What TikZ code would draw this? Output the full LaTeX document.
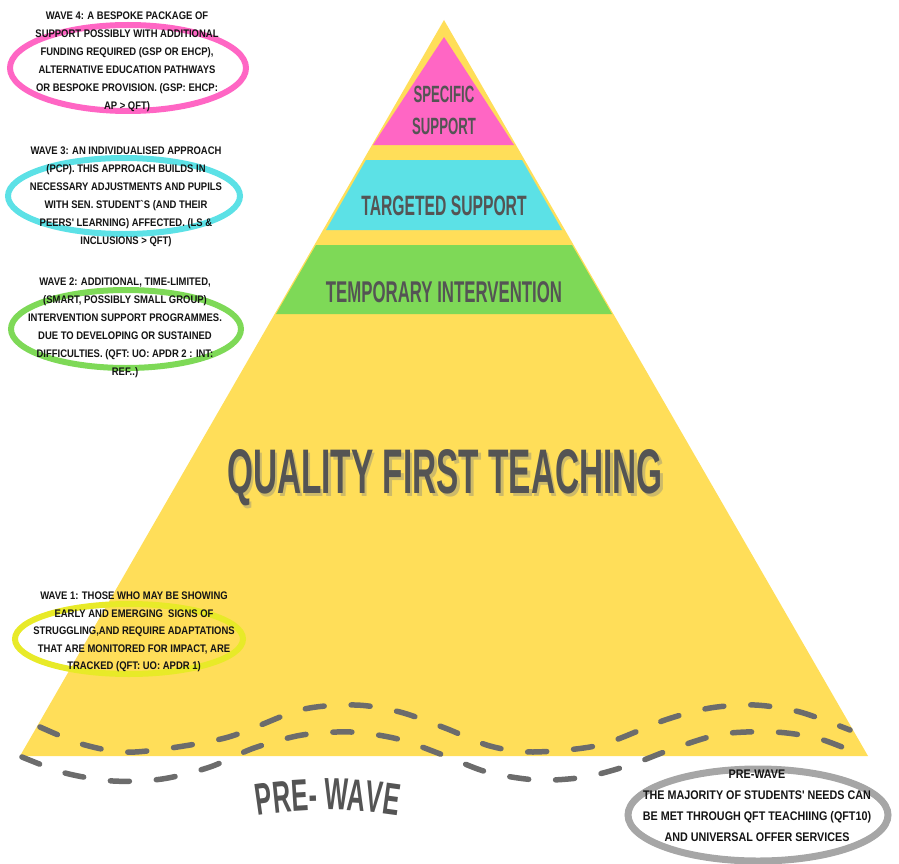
\documentclass[tikz,border=0pt]{standalone}
\usepackage{fontspec}
\usepackage{tikz}
\usetikzlibrary{shapes,positioning}
\newfontfamily\bandfont[FakeStretch=0.56]{Liberation Sans}
\newfontfamily\qftfont[FakeStretch=0.53]{Liberation Sans}
\newfontfamily\notefont[FakeStretch=0.86]{Liberation Sans}
\definecolor{pyryellow}{RGB}{255,222,89}
\definecolor{pyrpink}{RGB}{255,102,196}
\definecolor{pyrcyan}{RGB}{92,225,230}
\definecolor{pyrgreen}{RGB}{126,217,87}
\definecolor{pyrlime}{RGB}{232,234,40}
\definecolor{pyrgrey}{RGB}{166,166,166}
\definecolor{txtgrey}{RGB}{84,84,84}
\definecolor{dashgrey}{RGB}{108,108,108}
\definecolor{shadowtan}{RGB}{205,186,105}
\tikzstyle{band} = [text=txtgrey, inner sep=0pt]
\tikzstyle{note} = [align=center, text=black!92, inner sep=0pt]
\tikzstyle{ring} = [line width=6pt]
\tikzstyle{wavy} = [dashgrey, line width=5.5pt, line cap=round, dash pattern=on 19pt off 27pt]
\newcommand{\wavefont}{\notefont\bfseries\fontsize{11}{18}\selectfont}

\begin{document}
\begin{tikzpicture}[x=1pt,y=-1pt]
\useasboundingbox (0,0) rectangle (899,864);

% Pyramid
\fill[pyryellow] (444,20) -- (868,756) -- (20,756) -- cycle;

% Levels
\fill[pyrpink] (444,37) -- (514,145) -- (373,145) -- cycle;
\fill[pyrcyan] (366,160) -- (522,160) -- (562,230) -- (326,230) -- cycle;
\fill[pyrgreen] (316,245) -- (572,245) -- (612,314) -- (276,314) -- cycle;

% Level labels
\node[band, align=center, font=\bandfont\bfseries\fontsize{23.5}{32}\selectfont] (specific) at (444,110) {SPECIFIC\\SUPPORT};
\node[band, font=\bandfont\bfseries\fontsize{28}{32}\selectfont] (targeted) at (444,206) {TARGETED SUPPORT};
\node[band, font=\bandfont\bfseries\fontsize{30}{32}\selectfont] (temporary) at (444,292) {TEMPORARY INTERVENTION};
\node[band, text=shadowtan, font=\qftfont\bfseries\fontsize{63}{70}\selectfont] (qftshadow) at (447.5,480.5) {QUALITY FIRST TEACHING};
\node[band, font=\qftfont\bfseries\fontsize{63}{70}\selectfont] (qft) at (445,478) {QUALITY FIRST TEACHING};

% Waves at the base
\draw[wavy] plot[smooth] coordinates {(40,727) (85,745) (135,752) (225,738) (300,710) (355,705) (400,712) (445,728) (490,746) (533,752) (600,745) (665,720) (710,708) (755,705) (800,712) (850,730)};
\draw[wavy] plot[smooth] coordinates {(22,757) (65,773) (113,781) (162,779) (210,767) (254,748) (302,735) (351,732) (398,739) (443,755) (487,772) (537,780) (585,777) (630,765) (675,748) (722,734) (775,732) (820,739) (866,757)};

% Curved label
\foreach \ch/\s [count=\i] in {P/-63.0,R/-45.5,E/-28.0,-/-15.4,W/7.7,A/26.8,V/44.3,E/61.1}
  \node[band, anchor=base, rotate={-1*(\s)*0.1282}, font=\bandfont\bfseries\fontsize{45}{50}\selectfont] (pw\i) at ({329+447*sin((\s)*0.1282)},{1257-447*cos((\s)*0.1282)}) {\ch};

% Rings
\draw[ring, pyrpink] (128,68) ellipse [x radius=118, y radius=43];
\draw[ring, pyrcyan] (124,196) ellipse [x radius=116, y radius=38];
\draw[ring, pyrgreen] (126,329) ellipse [x radius=115, y radius=39];
\draw[ring, pyrlime] (129,639) ellipse [x radius=114, y radius=35];
\draw[ring, pyrgrey, line width=7pt] (758,815) ellipse [x radius=130, y radius=46];

% Notes
\node[note, font=\wavefont] (wave4) at (127,62) {WAVE 4: A BESPOKE PACKAGE OF\\SUPPORT POSSIBLY WITH ADDITIONAL\\FUNDING REQUIRED (GSP OR EHCP),\\ALTERNATIVE EDUCATION PATHWAYS\\OR BESPOKE PROVISION. (GSP: EHCP:\\AP > QFT)};
\node[note, font=\wavefont] (wave3) at (126,197) {WAVE 3: AN INDIVIDUALISED APPROACH\\(PCP). THIS APPROACH BUILDS IN\\NECESSARY ADJUSTMENTS AND PUPILS\\WITH SEN. STUDENT`S (AND THEIR\\PEERS' LEARNING) AFFECTED. (LS \&\\INCLUSIONS > QFT)};
\node[note, font=\wavefont] (wave2) at (125,328) {WAVE 2: ADDITIONAL, TIME-LIMITED,\\(SMART, POSSIBLY SMALL GROUP)\\INTERVENTION SUPPORT PROGRAMMES.\\DUE TO DEVELOPING OR SUSTAINED\\DIFFICULTIES. (QFT: UO: APDR 2 : INT:\\REF..)};
\node[note, font=\notefont\bfseries\fontsize{11}{17.5}\selectfont] (wave1) at (134,632) {WAVE 1: THOSE WHO MAY BE SHOWING\\EARLY AND EMERGING\ \ SIGNS OF\\STRUGGLING,AND REQUIRE ADAPTATIONS\\THAT ARE MONITORED FOR IMPACT, ARE\\TRACKED (QFT: UO: APDR 1)};
\node[note, font=\notefont\bfseries\fontsize{12.5}{21}\selectfont] (prewave) at (757,806) {PRE-WAVE\\THE MAJORITY OF STUDENTS' NEEDS CAN\\BE MET THROUGH QFT TEACHIING (QFT10)\\AND UNIVERSAL OFFER SERVICES};
\end{tikzpicture}
\end{document}
